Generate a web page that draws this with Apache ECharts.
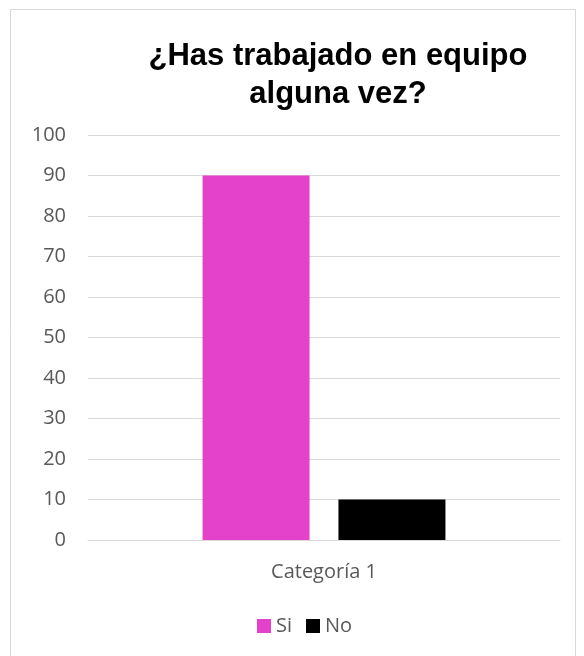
<!DOCTYPE html>
<html>
<head>
<meta charset="utf-8">
<script src="https://cdn.jsdelivr.net/npm/echarts@6/dist/echarts.min.js"></script>
<style>
html,body{margin:0;padding:0;background:#fff;}
#c{width:584px;height:656px;}
</style>
</head>
<body>
<div id="c"></div>
<script>
const categories = ['Categoría 1'];
const siValues = [90];
const noValues = [10];
const titleText = '¿Has trabajado en equipo\nalguna vez?';

const chart = echarts.init(document.getElementById('c'));
chart.setOption({
  animation: false,
  backgroundColor: '#fff',
  graphic: [{
    type: 'rect',
    shape: {x: 10.5, y: 9.5, width: 565, height: 660},
    style: {fill: 'none', stroke: '#d9d9d9', lineWidth: 1},
    silent: true
  }],
  title: {
    text: titleText,
    left: 333,
    top: 32,
    textAlign: 'center',
    textStyle: {
      fontFamily: 'Liberation Sans, Arial, sans-serif',
      fontWeight: 'bold',
      fontSize: 31,
      lineHeight: 38,
      color: '#000'
    }
  },
  legend: {
    data: ['Si', 'No'],
    left: 252,
    top: 611,
    itemWidth: 14,
    itemHeight: 14,
    itemGap: 14,
    icon: 'rect',
    textStyle: {fontFamily: 'Open Sans, sans-serif', fontSize: 20, color: '#595959'}
  },
  grid: {left: 88, right: 24, top: 135, bottom: 116, containLabel: false},
  xAxis: {
    type: 'category',
    data: categories,
    axisLine: {lineStyle: {color: '#d9d9d9'}},
    axisTick: {show: false},
    axisLabel: {fontFamily: 'Open Sans, sans-serif', fontSize: 20, color: '#595959', margin: 22}
  },
  yAxis: {
    type: 'value',
    min: 0,
    max: 100,
    interval: 10,
    axisLine: {show: false},
    axisTick: {show: false},
    splitLine: {lineStyle: {color: '#d9d9d9'}},
    axisLabel: {fontFamily: 'Open Sans, sans-serif', fontSize: 20, color: '#595959', margin: 22}
  },
  series: [
    {name: 'Si', type: 'bar', data: siValues, barWidth: 107, barGap: '27%', itemStyle: {color: '#e542cc'}},
    {name: 'No', type: 'bar', data: noValues, barWidth: 107, itemStyle: {color: '#000000'}}
  ]
});
</script>
</body>
</html>
